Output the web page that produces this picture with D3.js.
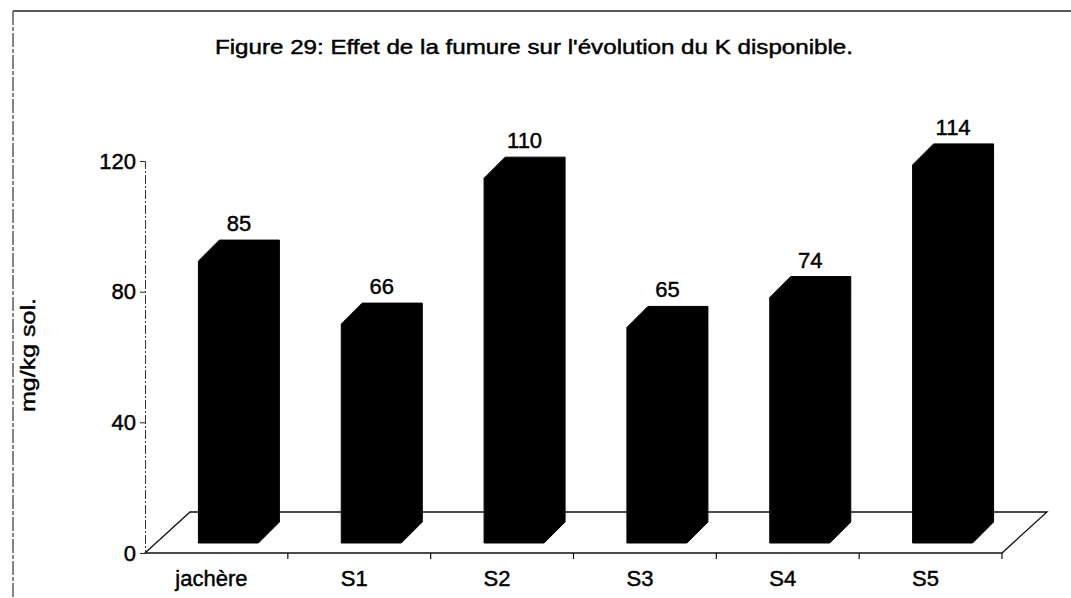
<!DOCTYPE html>
<html>
<head>
<meta charset="utf-8">
<script src="https://cdn.jsdelivr.net/npm/d3@7"></script>
<style>
  body { margin: 0; background: #fff; }
  svg text { font-family: "Liberation Sans", Arial, sans-serif; fill: #000; stroke: #000; stroke-width: 0.45px; }
</style>
</head>
<body>
<svg id="chart" width="1071" height="598"></svg>
<script>
// data
var categories = ["jachère", "S1", "S2", "S3", "S4", "S5"];
var values = [85, 66, 110, 65, 74, 114];
var yTicks = [0, 40, 80, 120];
var title = "Figure 29: Effet de la fumure sur l'évolution du K disponible.";
var yLabel = "mg/kg sol.";

var svg = d3.select("#chart");

// frame (top + left lines of the scanned box)
svg.append("line").attr("x1", 13).attr("y1", 11).attr("x2", 1071).attr("y2", 11)
   .attr("stroke", "#222").attr("stroke-width", 1.5);
svg.append("line").attr("x1", 13).attr("y1", 11).attr("x2", 13).attr("y2", 598)
   .attr("stroke", "#333").attr("stroke-width", 1.2).attr("stroke-dasharray", "14,2,4,2");

// title
svg.append("text").attr("x", 534).attr("y", 54)
   .attr("text-anchor", "middle").attr("font-size", 20)
   .attr("textLength", 638).attr("lengthAdjust", "spacingAndGlyphs")
   .text(title);

// scales
var floorX0 = 145, floorX1 = 1002, floorY = 553;
var depthX = 45, depthY = -41;      // floor depth
var barDX = 21, barDY = -21;        // bar depth
var barW = 60;

var x = d3.scaleBand().domain(categories).range([floorX0, floorX1]).padding(0);
var yAxisScale = d3.scaleLinear().domain([0, 120]).range([floorY, 161]);
var barBase = floorY + depthY / 2 - barDY / 2;   // front base of bars
var h = d3.scaleLinear().domain([0, 120]).range([0, 398]);

// floor
var floor = [[floorX0, floorY], [floorX0 + depthX, floorY + depthY],
             [floorX1 + depthX, floorY + depthY], [floorX1, floorY]];
svg.append("path")
   .attr("d", d3.line()(floor) + "Z")
   .attr("fill", "#fff").attr("stroke", "#111").attr("stroke-width", 1.3);

// category ticks on the front edge
svg.append("g").selectAll("line")
   .data(categories.slice(1).map(function(c) { return x(c); }).concat([floorX1]))
   .join("line")
   .attr("x1", function(d) { return d; }).attr("x2", function(d) { return d; })
   .attr("y1", floorY).attr("y2", floorY + 6)
   .attr("stroke", "#111").attr("stroke-width", 1.2);

// y axis
var yAxis = svg.append("g").attr("transform", "translate(" + floorX0 + ",0)")
   .call(d3.axisLeft(yAxisScale).tickValues(yTicks).tickSize(5).tickPadding(4).tickFormat(d3.format("d")));
yAxis.select(".domain").attr("stroke", "#333").attr("stroke-dasharray", "9,2,2,2");
yAxis.selectAll(".tick line").attr("stroke", "#222");
yAxis.selectAll(".tick text").attr("font-size", 22)
   .attr("font-family", "Liberation Sans, Arial, sans-serif").attr("fill", "#000");

svg.append("text")
   .attr("transform", "translate(35,355) rotate(-90)")
   .attr("text-anchor", "middle").attr("font-size", 21)
   .attr("textLength", 114).attr("lengthAdjust", "spacingAndGlyphs")
   .text(yLabel);

// bars (3D-looking prisms, all black)
function barPath(cat, v) {
  var cx = x(cat) + x.bandwidth() / 2 + depthX / 2 - barDX / 2;
  var x0 = cx - barW / 2, x1 = cx + barW / 2;
  var yT = barBase - h(v);
  var pts = [[x0, barBase], [x0, yT], [x0 + barDX, yT + barDY],
             [x1 + barDX, yT + barDY], [x1 + barDX, barBase + barDY], [x1, barBase]];
  return d3.line()(pts) + "Z";
}

svg.append("g").selectAll("path")
   .data(categories)
   .join("path")
   .attr("d", function(c, i) { return barPath(c, values[i]); })
   .attr("fill", "#000").attr("stroke", "#000").attr("stroke-width", 1);

// value labels
svg.append("g").selectAll("text")
   .data(categories)
   .join("text")
   .attr("x", function(c) { return x(c) + x.bandwidth() / 2 + depthX / 2; })
   .attr("y", function(c, i) { return barBase - h(values[i]) + barDY - 9; })
   .attr("text-anchor", "middle").attr("font-size", 22)
   .text(function(c, i) { return values[i]; });

// category labels
svg.append("g").selectAll("text")
   .data(categories)
   .join("text")
   .attr("x", function(c) { return x(c) + x.bandwidth() / 2 - 5; })
   .attr("y", 586)
   .attr("text-anchor", "middle").attr("font-size", 22)
   .text(function(c) { return c; });
</script>
</body>
</html>
